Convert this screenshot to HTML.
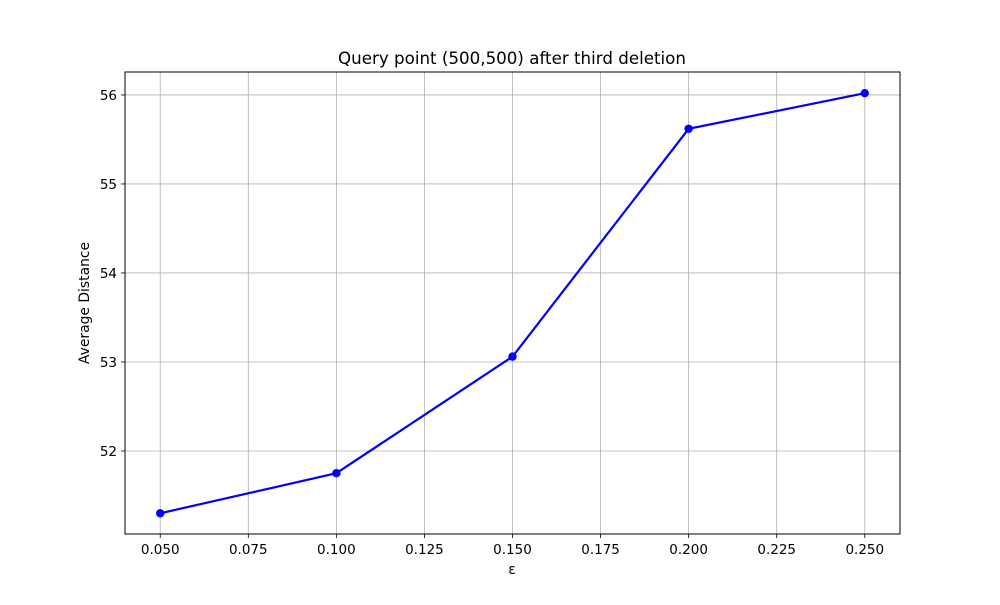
<!DOCTYPE html>
<html><head><meta charset="utf-8"><style>
body{margin:0;background:#fff;}
svg text{font-family:"DejaVu Sans","Liberation Sans",sans-serif;}
</style></head><body>
<svg id="chart" width="1000" height="600" xmlns="http://www.w3.org/2000/svg">
<rect width="1000" height="600" fill="#fff"/>
<text x="512" y="64" text-anchor="middle" font-size="16.7">Query point (500,500) after third deletion</text>
<g id="grid"></g>
<g id="ticks"></g>
<g id="series"></g>
<rect x="125" y="72" width="775" height="462" fill="none" stroke="#000" stroke-width="1"/>
<text x="512" y="574" text-anchor="middle" font-size="13.9">ε</text>
<text transform="translate(89,303) rotate(-90)" text-anchor="middle" font-size="13.9">Average Distance</text>
</svg>
<script>
const epsValues = [0.05, 0.10, 0.15, 0.20, 0.25];
const avgDistance = [51.30, 51.75, 53.06, 55.62, 56.02];
const xTickLabels = ["0.050","0.075","0.100","0.125","0.150","0.175","0.200","0.225","0.250"];
const yTickLabels = ["52","53","54","55","56"];

const NS = "http://www.w3.org/2000/svg";
const X0 = 125, X1 = 900, Y0 = 534, Y1 = 72;
const xMin = 0.04, xMax = 0.26;
const yMin = 51.067, yMax = 56.258;
function xs(v){ return X0 + (v - xMin) / (xMax - xMin) * (X1 - X0); }
function ys(v){ return Y0 - (v - yMin) / (yMax - yMin) * (Y0 - Y1); }
function mk(tag, attrs, parent){ const e = document.createElementNS(NS, tag); for (const k in attrs) e.setAttribute(k, attrs[k]); parent.appendChild(e); return e; }

const grid = document.getElementById('grid');
const ticks = document.getElementById('ticks');
const series = document.getElementById('series');

xTickLabels.forEach(function(lbl){
  const x = xs(parseFloat(lbl));
  const g = mk('line', {x1:x, x2:x, y1:Y1, y2:Y0, stroke:'#b0b0b0', 'stroke-width':0.8}, grid);
  
  
  const t = mk('line', {x1:x, x2:x, y1:Y0, y2:Y0+4, stroke:'#000', 'stroke-width':0.8}, ticks);
  
  
  const tx = mk('text', {x:x, y:Y0+20, 'text-anchor':'middle', 'font-size':13.5}, ticks);
  tx.textContent = lbl;
  
  
});
yTickLabels.forEach(function(lbl){
  const y = ys(parseFloat(lbl));
  const g = mk('line', {x1:X0, x2:X1, y1:y, y2:y, stroke:'#b0b0b0', 'stroke-width':0.8}, grid);
  
  
  const t = mk('line', {x1:X0-4, x2:X0, y1:y, y2:y, stroke:'#000', 'stroke-width':0.8}, ticks);
  
  
  const tx = mk('text', {x:X0-8, y:y+5, 'text-anchor':'end', 'font-size':13.5}, ticks);
  tx.textContent = lbl;
  
  
});

const pts = epsValues.map(function(e, i){ return xs(e) + ',' + ys(avgDistance[i]); }).join(' ');
const line = mk('polyline', {points:pts, fill:'none', stroke:'#0000ff', 'stroke-width':2.2}, series);


epsValues.forEach(function(e, i){
  const c = mk('circle', {cx:xs(e), cy:ys(avgDistance[i]), r:4.2, fill:'#0000ff'}, series);
  
  
});
</script>
</body></html>
